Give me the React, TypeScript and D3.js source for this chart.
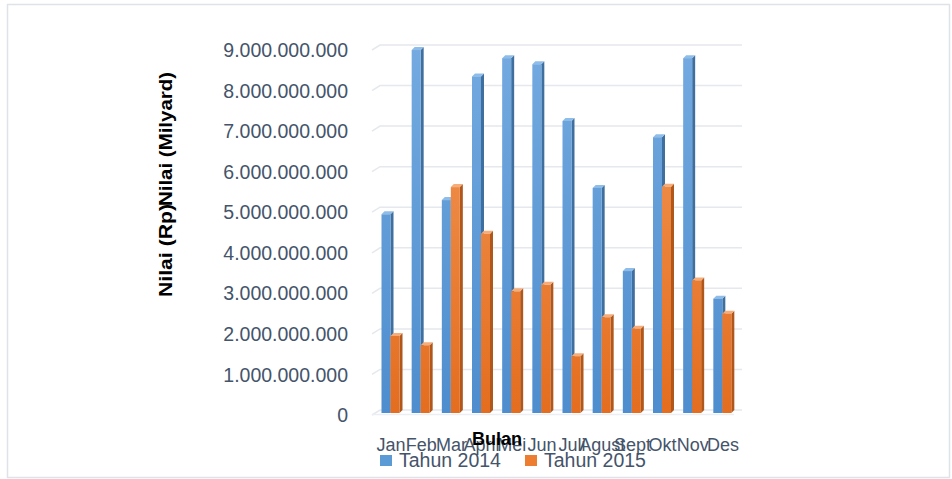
import React, { useRef, useEffect } from 'react';
import * as d3 from 'd3';

const months = ['Jan', 'Feb', 'Mar', 'April', 'Mei', 'Jun', 'Juli', 'Agust', 'Sept', 'Okt', 'Nov', 'Des'];
const seriesNames = ['Tahun 2014', 'Tahun 2015'];
const values2014 = [
  4900000000, 8950000000, 5250000000, 8300000000, 8750000000, 8600000000,
  7200000000, 5550000000, 3500000000, 6800000000, 8750000000, 2820000000,
];
const values2015 = [
  1900000000, 1670000000, 5570000000, 4420000000, 3000000000, 3160000000,
  1400000000, 2360000000, 2080000000, 5580000000, 3270000000, 2450000000,
];
const yTicks = [0, 1e9, 2e9, 3e9, 4e9, 5e9, 6e9, 7e9, 8e9, 9e9];

const W = 952;
const H = 479;

const App: React.FC = () => {
  const svgRef = useRef<SVGSVGElement>(null);

  useEffect(() => {
    if (!svgRef.current) return;
    const svg = d3.select(svgRef.current);
    svg.selectAll('*').remove();

    const depth = 3;
    const xScale = d3.scaleBand<string>().domain(months).range([376, 738]);
    const sub = d3.scaleBand<string>().domain(seriesNames).range([5.5, 23.5]);
    // back wall scale
    const yScale = d3.scaleLinear().domain([0, 9e9]).range([410, 45]);

    const labelFont = "'Liberation Sans', Arial, sans-serif";
    const textColor = '#44546a';

    // frame
    svg
      .append('rect')
      .attr('x', 7.5)
      .attr('y', 4.5)
      .attr('width', 942)
      .attr('height', 473)
      .attr('fill', '#fff')
      .attr('stroke', '#dfe3e8')
      .attr('stroke-width', 1.5);

    const defs = svg.append('defs');
    const grad = (id: string, c1: string, c2: string) => {
      const g = defs
        .append('linearGradient')
        .attr('id', id)
        .attr('gradientUnits', 'userSpaceOnUse')
        .attr('x1', 0)
        .attr('y1', 45)
        .attr('x2', 0)
        .attr('y2', 413);
      g.append('stop').attr('offset', '0%').attr('stop-color', c1);
      g.append('stop').attr('offset', '100%').attr('stop-color', c2);
    };
    grad('gBlue', '#74aae0', '#4e8dce');
    grad('gOrange', '#f39a5a', '#e46d1f');

    // grid lines on the back wall
    const grid = svg.append('g');
    yTicks.forEach((t) => {
      const y = yScale(t);
      grid
        .append('path')
        .attr('d', `M372,${y + 5}L380,${y}L742,${y}`)
        .attr('fill', 'none')
        .attr('stroke', '#e5e8ed')
        .attr('stroke-width', 1.5);
    });
    // floor front edge
    grid
      .append('line')
      .attr('x1', 372)
      .attr('x2', 734)
      .attr('y1', 414.5)
      .attr('y2', 414.5)
      .attr('stroke', '#eceef1')
      .attr('stroke-width', 1.5);

    // y tick labels
    svg
      .append('g')
      .selectAll('text')
      .data(yTicks)
      .enter()
      .append('text')
      .attr('x', 348)
      .attr('y', (d) => yScale(d) + 7)
      .attr('text-anchor', 'end')
      .attr('dominant-baseline', 'middle')
      .attr('font-family', labelFont)
      .attr('font-size', 19.5)
      .attr('fill', textColor)
      .text((d) => (d === 0 ? '0' : d3.format(',')(d).replace(/,/g, '.')));

    // bars
    const series = [
      { name: seriesNames[0], values: values2014, front: 'url(#gBlue)', side: '#3f6f9f', top: '#8fbde9' },
      { name: seriesNames[1], values: values2015, front: 'url(#gOrange)', side: '#b0571b', top: '#f6ad7a' },
    ];
    const base = 413;
    const bars = svg.append('g');
    series.forEach((s) => {
      months.forEach((m, i) => {
        const x = (xScale(m) || 0) + (sub(s.name) || 0);
        const w = sub.bandwidth();
        const yTop = yScale(s.values[i]) + depth;
        bars
          .append('path')
          .attr('d', `M${x + w},${yTop}L${x + w + depth},${yTop - depth}L${x + w + depth},${base - depth}L${x + w},${base}Z`)
          .attr('fill', s.side);
        bars
          .append('path')
          .attr('d', `M${x},${yTop}L${x + depth},${yTop - depth}L${x + w + depth},${yTop - depth}L${x + w},${yTop}Z`)
          .attr('fill', s.top);
        bars
          .append('rect')
          .attr('x', x)
          .attr('y', yTop)
          .attr('width', w)
          .attr('height', base - yTop)
          .attr('fill', s.front);
      });
    });

    // x labels
    svg
      .append('g')
      .selectAll('text')
      .data(months)
      .enter()
      .append('text')
      .attr('x', (d) => (xScale(d) || 0) + xScale.bandwidth() / 2)
      .attr('y', 451)
      .attr('text-anchor', 'middle')
      .attr('font-family', labelFont)
      .attr('font-size', 18)
      .attr('fill', textColor)
      .text((d) => d);

    // axis titles
    svg
      .append('text')
      .attr('x', 497)
      .attr('y', 445)
      .attr('text-anchor', 'middle')
      .attr('font-family', labelFont)
      .attr('font-weight', 'bold')
      .attr('font-size', 18)
      .attr('fill', '#000')
      .text('Bulan');

    svg
      .append('text')
      .attr('transform', 'translate(172,297) rotate(-90)')
      .attr('font-family', labelFont)
      .attr('font-weight', 'bold')
      .attr('font-size', 18)
      .attr('textLength', 93)
      .attr('lengthAdjust', 'spacingAndGlyphs')
      .attr('fill', '#000')
      .text('Nilai (Rp)');
    svg
      .append('text')
      .attr('transform', 'translate(172,206) rotate(-90)')
      .attr('font-family', labelFont)
      .attr('font-weight', 'bold')
      .attr('font-size', 18)
      .attr('textLength', 134)
      .attr('lengthAdjust', 'spacingAndGlyphs')
      .attr('fill', '#000')
      .text('Nilai (Milyard)');

    // legend
    const legend = svg.append('g');
    const legendItems = [
      { name: seriesNames[0], color: '#5b9bd5', x: 380 },
      { name: seriesNames[1], color: '#ed7d31', x: 525 },
    ];
    legendItems.forEach((l) => {
      legend
        .append('rect')
        .attr('x', l.x)
        .attr('y', 455)
        .attr('width', 12)
        .attr('height', 11)
        .attr('fill', l.color);
      legend
        .append('text')
        .attr('x', l.x + 19)
        .attr('y', 467)
        .attr('font-family', labelFont)
        .attr('font-size', 19.5)
        .attr('fill', textColor)
        .text(l.name);
    });
  }, []);

  return (
    <div style={{ position: 'absolute', left: 0, top: 0, width: W, height: H, background: '#fff' }}>
      <svg ref={svgRef} width={W} height={H} style={{ display: 'block' }} />
    </div>
  );
};

export default App;
